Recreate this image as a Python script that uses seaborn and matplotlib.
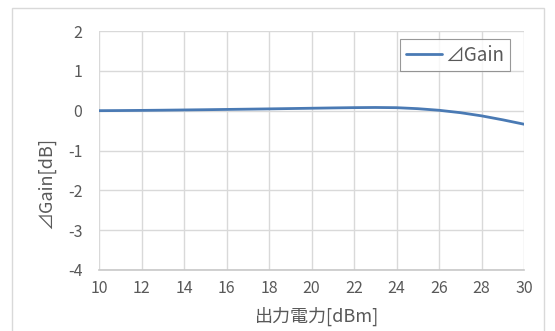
import matplotlib
matplotlib.use("Agg")
import matplotlib.pyplot as plt
import seaborn as sns
import pandas as pd
from matplotlib.patches import Rectangle

sns.set_theme(style="white")
plt.rcParams["font.family"] = ["Noto Sans CJK JP", "DejaVu Sans"]
plt.rcParams["axes.unicode_minus"] = False

# Output power [dBm] and gain deviation [dB]
power_dbm = [10, 11, 12, 13, 14, 15, 16, 17, 18, 19, 20, 21, 22, 23, 24, 25, 26, 27, 28, 29, 30]
delta_gain = [0.0, 0.003, 0.007, 0.012, 0.018, 0.024, 0.031, 0.038, 0.045, 0.053, 0.061, 0.069,
              0.076, 0.08, 0.075, 0.05, 0.01, -0.05, -0.13, -0.23, -0.34]
x_ticks = [10, 12, 14, 16, 18, 20, 22, 24, 26, 28, 30]
y_ticks = [-4, -3, -2, -1, 0, 1, 2]
series_name = "⊿Gain"

df = pd.DataFrame({"power": power_dbm, "gain": delta_gain})

W, H = 555, 331
fig = plt.figure(figsize=(W / 100, H / 100), dpi=100)
ax = fig.add_axes([99 / W, 1 - 270 / H, (524 - 99) / W, (270 - 31) / H])

# outer chart frame
fig.patches.append(Rectangle((12 / W, -0.1), (544 - 12) / W, (1 - 8 / H) + 0.1,
                             transform=fig.transFigure, fill=False,
                             edgecolor="#d9d9d9", linewidth=1.0))

grid_c = "#d9d9d9"
text_c = "#595959"

sns.lineplot(data=df, x="power", y="gain", ax=ax, color="#4a7ab4",
             linewidth=2.0, label=series_name)

ax.set_xlim(10, 30)
ax.set_ylim(-4, 2)
ax.set_xticks(x_ticks)
ax.set_yticks(y_ticks)
ax.grid(True, color=grid_c, linewidth=1.0)
ax.set_axisbelow(True)
for side in ["top", "right", "left"]:
    ax.spines[side].set_visible(False)
ax.spines["bottom"].set_color("#c8c8c8")
ax.spines["bottom"].set_linewidth(1.2)
ax.tick_params(axis="both", length=0, labelsize=11.5, colors=text_c)
ax.tick_params(axis="x", pad=7)
ax.tick_params(axis="y", pad=12)

ax.set_xlabel("")
ax.set_ylabel("")
fig.text(317 / W, 1 - 316 / H, "出力電力[dBm]", ha="center", va="center",
         fontsize=13, color=text_c)
fig.text(46 / W, 1 - 183 / H, "⊿Gain[dB]", ha="center", va="center",
         rotation=90, fontsize=13, color=text_c)

leg = ax.legend(loc="upper right", bbox_to_anchor=(510 / W, 1 - 39 / H),
                bbox_transform=fig.transFigure, frameon=True, fancybox=False,
                fontsize=13.5, handlelength=1.9, borderpad=0.3, handletextpad=0.2,
                borderaxespad=0)
leg.get_frame().set_edgecolor("#7f7f7f")
leg.get_frame().set_linewidth(0.8)
for t in leg.get_texts():
    t.set_color(text_c)

fig.savefig("out.png", dpi=100, facecolor="white")
